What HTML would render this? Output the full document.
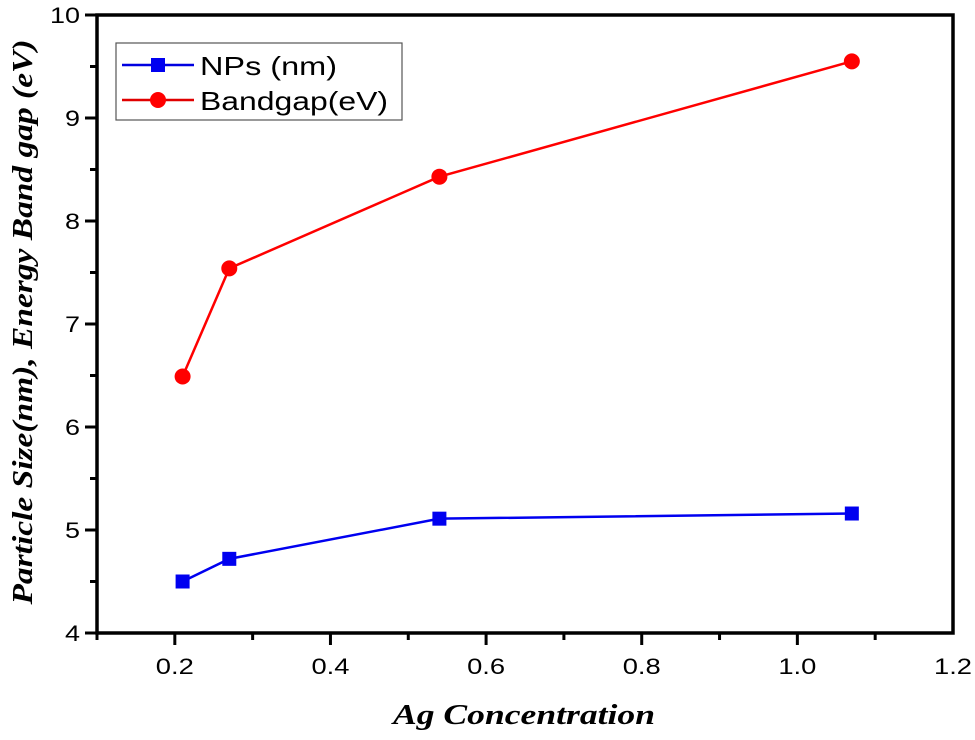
<!DOCTYPE html>
<html><head><meta charset="utf-8"><style>
body{margin:0;background:#fff}
svg text{font-family:"Liberation Sans",sans-serif}
</style></head><body>
<svg id="chart" width="975" height="735" xmlns="http://www.w3.org/2000/svg">
<g id="axes"></g>
<g id="series"></g>
<g>
<rect x="116" y="43" width="286" height="77" fill="#fff" stroke="#555" stroke-width="1.2"/>
<line x1="122" y1="65" x2="194" y2="65" stroke="#0000e0" stroke-width="2.5"/>
<rect x="151" y="58" width="14" height="14" fill="#0000f0"/>
<text x="200" y="75" font-size="26" textLength="137" lengthAdjust="spacingAndGlyphs">NPs (nm)</text>
<line x1="122" y1="100" x2="194" y2="100" stroke="#e00000" stroke-width="2.5"/>
<circle cx="158" cy="100" r="8" fill="#ff0000"/>
<text x="200" y="110" font-size="26" textLength="188" lengthAdjust="spacingAndGlyphs">Bandgap(eV)</text>
</g>
<text x="524" y="724" text-anchor="middle" font-size="28" font-weight="bold" font-style="italic" textLength="262" lengthAdjust="spacingAndGlyphs" style="font-family:'Liberation Serif',serif">Ag Concentration</text>
<text transform="translate(32,322) rotate(-90)" text-anchor="middle" font-size="28" font-weight="bold" font-style="italic" textLength="565" lengthAdjust="spacingAndGlyphs" style="font-family:'Liberation Serif',serif">Particle Size(nm), Energy Band gap (eV)</text>
</svg>
<script>
const xVals=[0.21,0.27,0.54,1.07];
const npsVals=[4.5,4.72,5.11,5.16];
const bandgapVals=[6.49,7.54,8.43,9.55];
const xTicks=["0.2","0.4","0.6","0.8","1.0","1.2"];
const yTicks=["4","5","6","7","8","9","10"];
const NS="http://www.w3.org/2000/svg";
const L=97,R=953,T=15,B=633;
function sx(v){return L+(v-0.1)*(R-L)/1.1;}
function sy(v){return B-(v-4)*(B-T)/6;}
function mk(t,a,p){const e=document.createElementNS(NS,t);for(const k in a)e.setAttribute(k,a[k]);p.appendChild(e);return e;}
const ax=document.getElementById('axes');
const frame=mk('rect',{x:L,y:T,width:R-L,height:B-T,fill:'none',stroke:'#000','stroke-width':3.5},ax);


for(let i=1;i<=11;i++){const v=0.1*i;const x=sx(v);const major=i%2===0;
mk('line',{x1:x,y1:B,x2:x,y2:B+(major?12:7),stroke:'#000','stroke-width':3},ax);}
xTicks.forEach(s=>{const t=mk('text',{x:sx(parseFloat(s)),y:B+41,'text-anchor':'middle','font-size':22,textLength:38,lengthAdjust:'spacingAndGlyphs'},ax);t.textContent=s;

});
for(let i=0;i<=12;i++){const v=4+i*0.5;const y=sy(v);const major=i%2===0;
mk('line',{x1:L,y1:y,x2:L-(major?12:7),y2:y,stroke:'#000','stroke-width':3},ax);}
yTicks.forEach(s=>{const t=mk('text',{x:L-17,y:sy(parseFloat(s))+8,'text-anchor':'end','font-size':22,textLength:s.length*15,lengthAdjust:'spacingAndGlyphs'},ax);t.textContent=s;

});
const sg=document.getElementById('series');
function series(vals,color,shape,name){
const pl=mk('polyline',{points:xVals.map((x,i)=>sx(x)+','+sy(vals[i])).join(' '),fill:'none',stroke:color,'stroke-width':2.5},sg);


xVals.forEach((x,i)=>{let m;
if(shape==='sq')m=mk('rect',{x:sx(x)-7,y:sy(vals[i])-7,width:14,height:14,fill:color},sg);
else m=mk('circle',{cx:sx(x),cy:sy(vals[i]),r:8,fill:color},sg);

});}
series(npsVals,'#0000f0','sq','nps');
series(bandgapVals,'#ff0000','ci','bandgap');
</script>
</body></html>
